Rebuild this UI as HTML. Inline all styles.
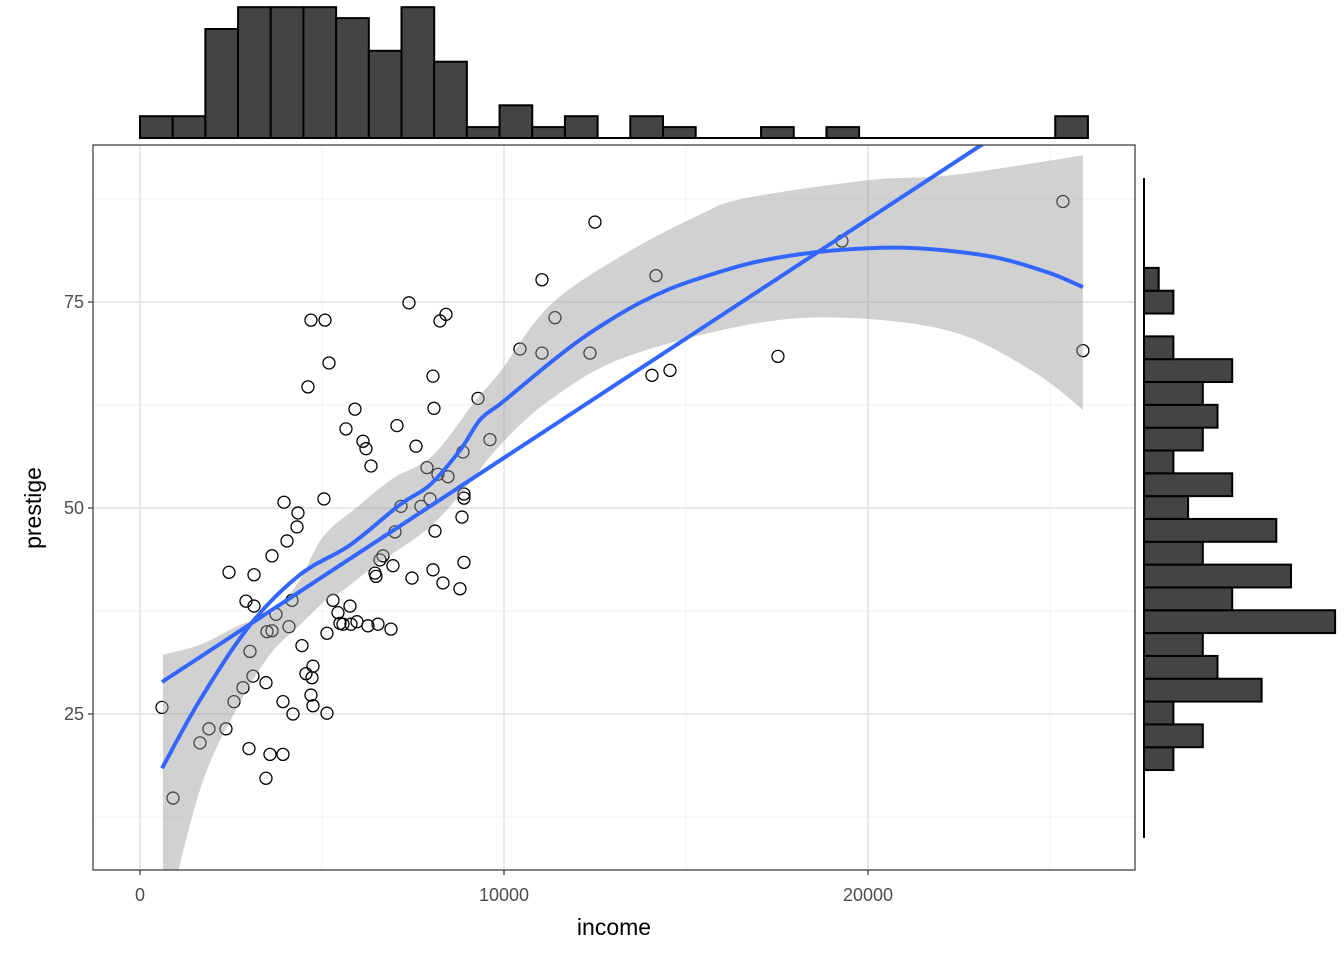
<!DOCTYPE html>
<html><head><meta charset="utf-8"><style>
html,body{margin:0;padding:0;background:#fff;}
svg{display:block;font-family:"Liberation Sans",sans-serif;}
</style></head><body>
<svg id="chart" width="1344" height="960"></svg>
<script>
const incomes=[604,907,1648,1895,2362,2445,2582,2829,2912,2994,3022,3132,3132,3104,3461,3461,3489,3571,3626,3736,3626,3928,3928,3956,4038,4093,4175,4203,4313,4340,4450,4560,4615,4697,4697,4725,4752,4752,5082,5054,5137,5137,5192,5302,5439,5494,5576,5659,5769,5796,5906,5961,6126,6208,6263,6346,6456,6483,6538,6593,6675,6895,6950,7005,7060,7170,7389,7472,7582,7719,7884,7966,8049,8049,8076,8104,8186,8241,8323,8406,8461,8790,8845,8873,8900,8900,8900,9285,9615,10439,11043,11043,11400,12362,12499,14065,14175,14560,17526,19284,25355,25904];
const prestiges=[25.8,14.8,21.5,23.2,23.2,42.2,26.5,28.2,38.7,20.8,32.6,38.1,41.9,29.6,28.8,17.2,35.0,20.1,35.1,37.1,44.2,20.1,26.5,50.7,46.0,35.6,38.8,25.0,47.7,49.4,33.3,29.9,64.7,72.8,27.3,29.4,26.0,30.8,72.8,51.1,25.1,34.8,67.6,38.8,37.3,36.0,35.9,59.6,38.1,35.9,62.0,36.2,58.1,57.2,35.7,55.1,42.1,41.7,35.9,43.7,44.2,35.3,43.0,47.1,60.0,50.2,74.9,41.5,57.5,50.2,54.9,51.1,42.5,66.0,62.1,47.2,54.1,72.7,40.9,73.5,53.8,40.2,48.9,56.8,51.2,51.7,43.4,63.3,58.3,69.3,77.7,68.8,73.1,68.8,84.7,66.1,78.2,66.7,68.4,82.4,87.2,69.1];
const smoothX=[604,1648,3022,4395,5769,7142,7966,8790,9340,9889,10439,11263,12087,12911,13734,14560,15383,16757,18130,19504,20877,22251,23624,24998,25904];
const smoothY=[18.4,26.7,35.8,41.9,45.5,50.4,52.8,57.0,60.7,62.6,64.6,67.6,70.4,72.8,74.9,76.6,77.9,79.7,80.8,81.4,81.6,81.2,80.3,78.5,76.8];
const upperX=[632,1648,2747,3654,4395,5027,6043,6950,8049,9230,9889,11263,13268,15383,16647,20053,22306,25904];
const bandUpper=[32.2,33.4,35.8,37.3,41.3,46.5,50.4,53.6,56.4,63.1,66.5,74.6,80.7,85.6,87.6,89.8,90.4,92.8];
const lowerX=[632,1648,2637,3571,4395,4670,5109,5576,6483,7856,8790,9889,11263,13268,16647,19256,22306,24558,25904];
const bandLower=[-1.8,15.8,25.5,32.2,35.8,37.0,38.8,40.0,43.1,47.3,51.6,57.6,63.1,68.2,72.2,73.1,71.4,66.5,61.9];
const incomeHistCounts=[2,2,10,12,12,12,11,8,12,7,1,3,1,2,0,2,1,0,0,1,0,1,0,0,0,0,0,0,2];
const incomeHistStart=0, incomeHistWidth=898;
const prestigeHistCounts=[2,4,2,8,5,4,13,6,10,4,9,3,6,2,4,5,4,6,2,0,2,1];
const prestigeHistStart=18.2, prestigeHistWidth=2.77;
const xTicks=[0,10000,20000], xMinor=[5000,15000,25000];
const yTicks=[25,50,75], yMinor=[12.5,37.5,62.5,87.5];

const NS="http://www.w3.org/2000/svg";
const svg=document.getElementById('chart');
const P={l:93,r:1135,t:145,b:870};
const sx=v=>140+v*0.0364;
const sy=v=>920-v*8.24;
function el(tag,attrs,parent){const e=document.createElementNS(NS,tag);for(const k in attrs)e.setAttribute(k,attrs[k]);(parent||svg).appendChild(e);return e;}
function smoothPath(xs,ys){const p=xs.map((x,i)=>[sx(x),sy(ys[i])]);let d='M'+p[0][0]+','+p[0][1];
for(let i=0;i<p.length-1;i++){const p0=p[Math.max(0,i-1)],p1=p[i],p2=p[i+1],p3=p[Math.min(p.length-1,i+2)];
d+='C'+(p1[0]+(p2[0]-p0[0])/6)+','+(p1[1]+(p2[1]-p0[1])/6)+' '+(p2[0]-(p3[0]-p1[0])/6)+','+(p2[1]-(p3[1]-p1[1])/6)+' '+p2[0]+','+p2[1];}return d;}

const defs=el('defs',{});
const cp=el('clipPath',{id:'pc'},defs);
el('rect',{x:P.l,y:P.t,width:P.r-P.l,height:P.b-P.t},cp);

const bg=el('rect',{x:P.l,y:P.t,width:P.r-P.l,height:P.b-P.t,fill:'#fff'});


const grid=el('g',{});


xMinor.forEach(v=>el('line',{x1:sx(v),x2:sx(v),y1:P.t,y2:P.b,stroke:'#f2f2f2','stroke-width':1},grid));
yMinor.forEach(v=>el('line',{x1:P.l,x2:P.r,y1:sy(v),y2:sy(v),stroke:'#f2f2f2','stroke-width':1},grid));
xTicks.forEach(v=>el('line',{x1:sx(v),x2:sx(v),y1:P.t,y2:P.b,stroke:'#e5e5e5','stroke-width':1.8},grid));
yTicks.forEach(v=>el('line',{x1:P.l,x2:P.r,y1:sy(v),y2:sy(v),stroke:'#e5e5e5','stroke-width':1.8},grid));

const g=el('g',{'clip-path':'url(#pc)'});
// points
const pts=el('g',{},g);


incomes.forEach((x,i)=>{const c=el('circle',{cx:sx(x),cy:sy(prestiges[i]),r:6,fill:'none',stroke:'#000','stroke-width':1.3},pts);

});
// band
let d=smoothPath(upperX,bandUpper);
const lr=smoothPath(lowerX.slice().reverse(),bandLower.slice().reverse());
d+='L'+lr.slice(1);
const band=el('path',{d:d+'Z',fill:'#999',opacity:0.45},g);


// linear fit
const n=incomes.length;let mx=0,my=0;incomes.forEach((x,i)=>{mx+=x;my+=prestiges[i];});mx/=n;my/=n;
let sxy=0,sxx=0;incomes.forEach((x,i)=>{sxy+=(x-mx)*(prestiges[i]-my);sxx+=(x-mx)*(x-mx);});
const b=sxy/sxx,a=my-b*mx;const xmin=Math.min(...incomes),xmax=Math.max(...incomes);
const lin=el('line',{x1:sx(xmin),y1:sy(a+b*xmin),x2:sx(xmax),y2:sy(a+b*xmax),stroke:'#3366FF','stroke-width':4},g);


const lo=el('path',{d:smoothPath(smoothX,smoothY),fill:'none',stroke:'#3366FF','stroke-width':4,'stroke-linejoin':'round'},g);



const border=el('rect',{x:P.l,y:P.t,width:P.r-P.l,height:P.b-P.t,fill:'none',stroke:'#333','stroke-width':1.2});



xTicks.forEach(v=>{el('line',{x1:sx(v),x2:sx(v),y1:P.b,y2:P.b+5,stroke:'#333','stroke-width':1.2});
const t=el('text',{x:sx(v),y:P.b+31,'text-anchor':'middle','font-size':18,fill:'#4d4d4d'});t.textContent=v;

});
yTicks.forEach(v=>{el('line',{x1:P.l-5,x2:P.l,y1:sy(v),y2:sy(v),stroke:'#333','stroke-width':1.2});
const t=el('text',{x:P.l-9,y:sy(v)+6,'text-anchor':'end','font-size':18,fill:'#4d4d4d'});t.textContent=v;

});
const xt=el('text',{x:614,y:935,'text-anchor':'middle','font-size':23,fill:'#000'});xt.textContent='income';


const yt=el('text',{x:0,y:0,'text-anchor':'middle','font-size':23,fill:'#000',transform:'translate(41,508) rotate(-90)'});yt.textContent='prestige';



const th=el('g',{});


const base=138,unit=10.9;
incomeHistCounts.forEach((c,i)=>{const x0=sx(incomeHistStart+i*incomeHistWidth),x1=sx(incomeHistStart+(i+1)*incomeHistWidth);
if(c>0){const r=el('rect',{x:x0,y:base-c*unit,width:x1-x0,height:c*unit,fill:'#444',stroke:'#000','stroke-width':2},th);

}});
el('line',{x1:sx(incomeHistStart),x2:sx(incomeHistStart+incomeHistCounts.length*incomeHistWidth),y1:base,y2:base,stroke:'#000','stroke-width':2},th);

const rh=el('g',{});


const rb=1144,ru=14.7;
el('line',{x1:rb,x2:rb,y1:178,y2:838,stroke:'#000','stroke-width':2},rh);
prestigeHistCounts.forEach((c,i)=>{const y0=sy(prestigeHistStart+(i+1)*prestigeHistWidth),y1=sy(prestigeHistStart+i*prestigeHistWidth);
if(c>0){const r=el('rect',{x:rb,y:y0,width:c*ru,height:y1-y0,fill:'#444',stroke:'#000','stroke-width':2},rh);

}});
</script>
</body></html>
